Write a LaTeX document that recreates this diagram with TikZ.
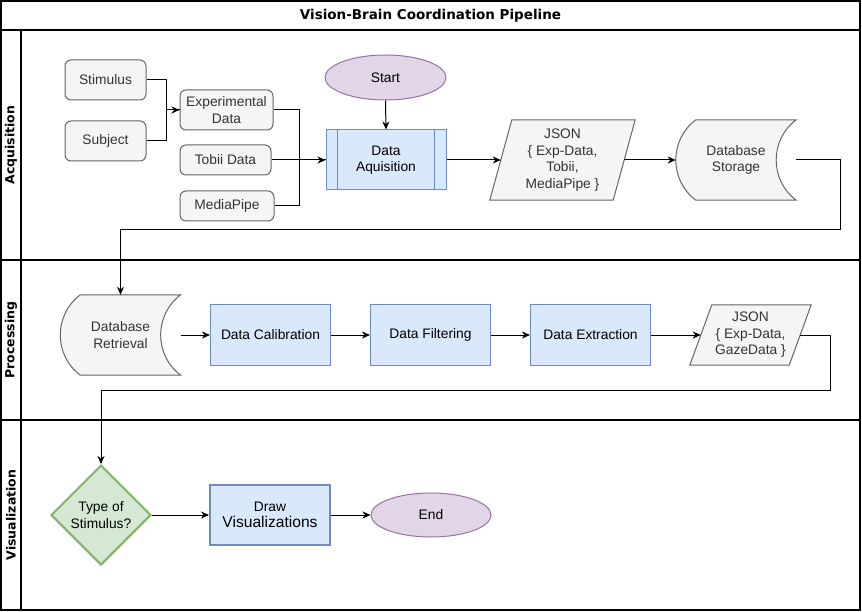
\documentclass[tikz,border=0pt]{standalone}
\usepackage{fontspec}
\setmainfont{Liberation Sans}
\newfontfamily\lanefont{DejaVu Sans}
\usetikzlibrary{arrows.meta,shapes.geometric,backgrounds}

\definecolor{bluefill}{HTML}{DAE8FC}
\definecolor{blueline}{HTML}{6C8EBF}
\definecolor{grayfill}{HTML}{F5F5F5}
\definecolor{grayline}{HTML}{666666}
\definecolor{graytext}{HTML}{333333}
\definecolor{purplefill}{HTML}{E1D5E7}
\definecolor{purpleline}{HTML}{9673A6}
\definecolor{greenfill}{HTML}{D5E8D4}
\definecolor{greenline}{HTML}{82B366}

\tikzset{
  txt/.style={font=\fontsize{13.8}{16.5}\selectfont, align=center, inner sep=0pt},
  source/.style={txt, draw=grayline, fill=grayfill, text=graytext, rounded corners=6pt, line width=1pt},
  process/.style={txt, draw=blueline, fill=bluefill, minimum width=120pt, minimum height=60pt, line width=1pt},
  terminal/.style={txt, ellipse, draw=purpleline, fill=purplefill, line width=1pt},
  storedbox/.style={txt, text=graytext, minimum width=120pt, minimum height=80pt},
  iobox/.style={txt, text=graytext},
  decision/.style={txt, diamond, aspect=1, draw=greenline, fill=greenfill, line width=2pt, minimum width=100pt, minimum height=100pt},
  lane/.style={font=\lanefont\fontsize{12.5}{15}\selectfont\bfseries, rotate=90},
  arr/.style={-{Stealth[length=8pt,width=7pt,inset=2.5pt]}, line width=1pt},
  link/.style={line width=1pt},
}

% stored data shape round a node
\newcommand{\storedshape}[1]{%
  \draw[grayline, fill=grayfill, line width=1pt]
    ([xshift=20pt]#1.north west) -- (#1.north east)
    .. controls ([xshift=-26.7pt,yshift=-20pt]#1.north east) and ([xshift=-26.7pt,yshift=20pt]#1.south east) .. (#1.south east)
    -- ([xshift=20pt]#1.south west)
    .. controls ([xshift=-6.7pt,yshift=20pt]#1.south west) and ([xshift=-6.7pt,yshift=-20pt]#1.north west) .. ([xshift=20pt]#1.north west)
    -- cycle;}
% data (parallelogram) shape round a node
\newcommand{\datashape}[1]{%
  \draw[grayline, fill=grayfill, line width=1pt]
    ([xshift=11pt]#1.north west) -- ([xshift=11pt]#1.north east)
    -- ([xshift=-11pt]#1.south east) -- ([xshift=-11pt]#1.south west) -- cycle;}

\begin{document}
\begin{tikzpicture}[x=1pt,y=-1pt]
\useasboundingbox (0,0) rectangle (862,612);

% pool and lanes
\draw[line width=1.2pt] (1,1) rectangle (860,610);
\draw[line width=1.2pt] (1,30) -- (860,30);
\draw[line width=1.2pt] (1,260) -- (860,260);
\draw[line width=1.2pt] (1,420) -- (860,420);
\draw[line width=1.2pt] (21,30) -- (21,610);

\node[font=\lanefont\fontsize{13.5}{16}\selectfont\bfseries] (title) at (430.5,15.5) {Vision-Brain Coordination Pipeline};
\node[lane] (lacq) at (11,145) {Acquisition};
\node[lane] (lproc) at (11,340) {Processing};
\node[lane] (lvis) at (11,515) {Visualization};

% acquisition
\node[source, minimum width=81pt, minimum height=40pt] (stim) at (105.5,80) {Stimulus};
\node[source, minimum width=81pt, minimum height=40pt] (subj) at (105.5,141) {Subject};
\node[source, minimum width=93pt, minimum height=40pt] (exp) at (226.5,110) {Experimental\\Data};
\node[source, minimum width=91pt, minimum height=30pt] (tobii) at (225.5,160) {Tobii Data};
\node[source, minimum width=94pt, minimum height=30pt] (media) at (227,206) {MediaPipe};

\node[terminal, minimum width=121pt, minimum height=45pt] (start) at (385.5,77.5) {Start};
\node[process] (acq) at (386,160) {Data\\Aquisition};
\draw[blueline, line width=1pt] ([xshift=12pt]acq.north west) -- ([xshift=12pt]acq.south west);
\draw[blueline, line width=1pt] ([xshift=-12pt]acq.north east) -- ([xshift=-12pt]acq.south east);

\node[iobox, minimum width=123pt, minimum height=80pt] (json1) at (562.5,160) {JSON\\\{ Exp-Data,\\Tobii,\\MediaPipe \}};
\node[storedbox] (dbs) at (736,160) {Database\\Storage};

% processing
\node[storedbox] (dbr) at (120.5,335) {Database\\Retrieval};
\node[process] (calib) at (270.5,335) {Data Calibration};
\node[process] (filt) at (430.5,335) {Data Filtering};
\node[process] (extr) at (590.5,335) {Data Extraction};
\node[iobox, minimum width=99pt, minimum height=60pt] (json2) at (750.5,335) {JSON\\\{ Exp-Data,\\GazeData \}};

% visualization
\node[decision] (type) at (101,515) {Type of\\Stimulus?};
\node[process, line width=2pt] (draw) at (270,515) {Draw\\{\fontsize{15.6}{18}\selectfont Visualizations}};
\node[terminal, minimum width=120pt, minimum height=44pt] (end) at (431,515) {End};

\begin{scope}[on background layer]
\storedshape{dbs}
\storedshape{dbr}
\datashape{json1}
\datashape{json2}
\end{scope}

% connectors
\draw[arr] (stim.east) -- ++(20,0) |- (exp.west);
\draw[link] (subj.east) -- ++(20,0) |- (exp.west);
\draw[link] (exp.east) -- ++(26,0) |- (acq.west);
\draw[arr] (tobii.east) -- (acq.west);
\draw[link] (media.east) -- ++(25,0) |- (acq.west);
\draw[arr] (start.south) -- (acq.north);
\draw[arr] (acq.east) -- (json1.west);
\draw[arr] (json1.east) -- (dbs.west);
\draw[arr] (dbs.east) -- ++(44,0) -- ++(0,70) -| (dbr.north);

\draw[arr] (dbr.east) -- (calib.west);
\draw[arr] (calib.east) -- (filt.west);
\draw[arr] (filt.east) -- (extr.west);
\draw[arr] (extr.east) -- (json2.west);
\draw[arr] (json2.east) -- ++(30,0) -- ++(0,55) -| (type.north);

\draw[arr] (type.east) -- (draw.west);
\draw[arr] (draw.east) -- (end.west);
\end{tikzpicture}
\end{document}
